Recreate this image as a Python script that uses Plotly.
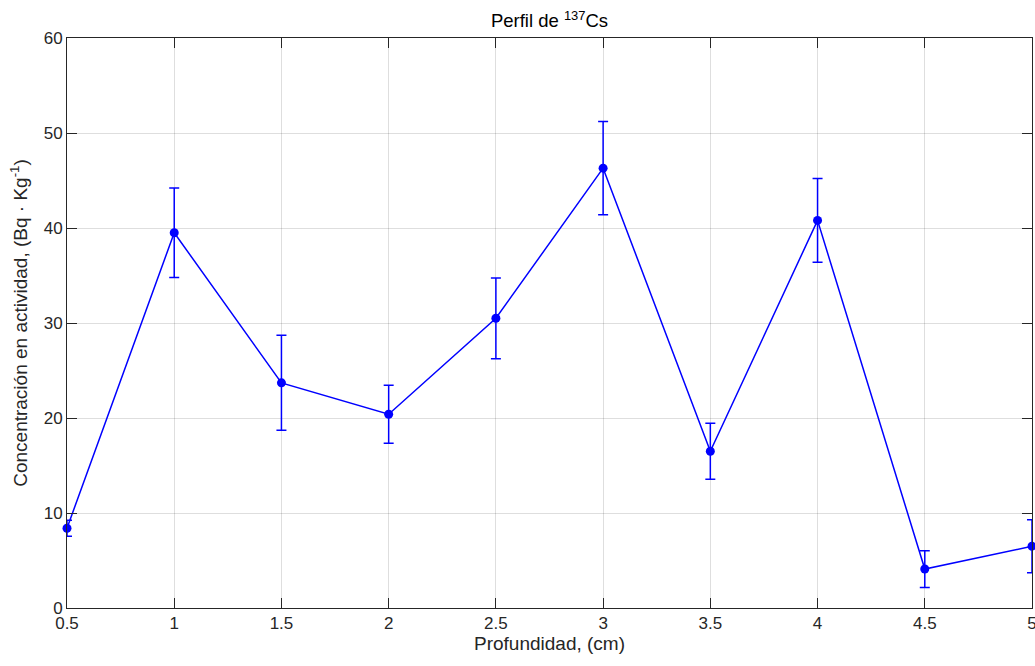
import plotly.graph_objects as go

depth = [0.5, 1.0, 1.5, 2.0, 2.5, 3.0, 3.5, 4.0, 4.5, 5.0]
activity = [8.4, 39.5, 23.7, 20.4, 30.5, 46.3, 16.5, 40.8, 4.1, 6.5]
error = [0.85, 4.7, 5.0, 3.05, 4.25, 4.9, 2.95, 4.4, 1.93, 2.8]

x_ticks = [0.5, 1, 1.5, 2, 2.5, 3, 3.5, 4, 4.5, 5]
x_tick_labels = ["0.5", "1", "1.5", "2", "2.5", "3", "3.5", "4", "4.5", "5"]
y_ticks = [0, 10, 20, 30, 40, 50, 60]

blue = "rgb(0,0,255)"
axcol = "#262626"
font = "Liberation Sans, Arial, Helvetica, sans-serif"

fig = go.Figure()
fig.add_trace(go.Scatter(
    x=depth, y=activity,
    mode="lines+markers",
    line=dict(color=blue, width=1.5),
    marker=dict(color=blue, size=9),
    error_y=dict(type="data", array=error, visible=True, color=blue,
                 thickness=1.5, width=5),
    cliponaxis=False,
    showlegend=False,
))

fig.update_layout(
    width=1035, height=666,
    margin=dict(l=67, r=3, t=38, b=58),
    paper_bgcolor="white", plot_bgcolor="white",
    font=dict(family=font, size=17, color=axcol),
    title=dict(text="Perfil de <sup>137</sup>Cs", x=0.5, xref="paper",
               xanchor="center", y=1 - 21 / 666, yanchor="middle",
               font=dict(family=font, size=18.5, color="black")),
)

fig.update_xaxes(
    range=[0.5, 5], tickvals=x_ticks, ticktext=x_tick_labels,
    showline=True, linecolor=axcol, linewidth=1, mirror="ticks",
    ticks="inside", ticklen=10, tickcolor=axcol, tickwidth=1,
    showgrid=True, gridcolor="rgba(0,0,0,0.13)", gridwidth=1,
    zeroline=False, ticklabeloverflow="allow", automargin=False,
    tickfont=dict(family=font, size=17, color=axcol),
    title=dict(text="Profundidad, (cm)", standoff=4,
               font=dict(family=font, size=19, color=axcol)),
)
fig.update_yaxes(
    range=[0, 60], tickvals=y_ticks, automargin=False,
    showline=True, linecolor=axcol, linewidth=1, mirror="ticks",
    ticks="inside", ticklen=10, tickcolor=axcol, tickwidth=1,
    showgrid=True, gridcolor="rgba(0,0,0,0.13)", gridwidth=1,
    zeroline=False,
    tickfont=dict(family=font, size=17, color=axcol),
    title=dict(text="Concentración en actividad, (Bq · Kg<sup>-1</sup>)", standoff=11,
               font=dict(family=font, size=19, color=axcol)),
)

fig.write_html("out.html")
